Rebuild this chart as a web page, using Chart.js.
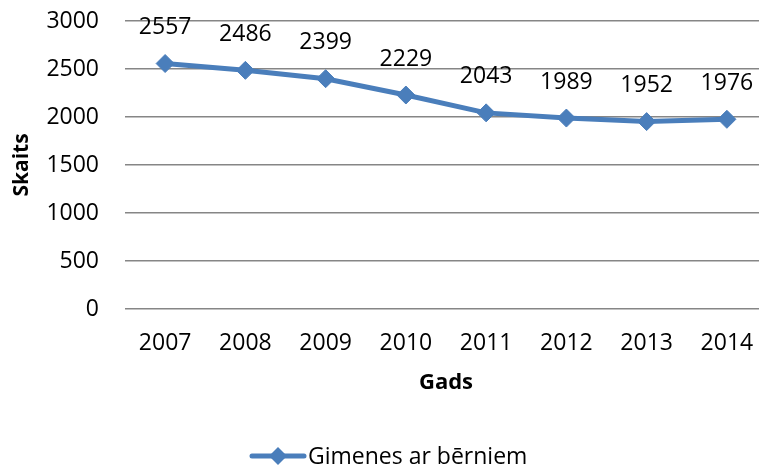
<!DOCTYPE html>
<html>
<head>
<meta charset="utf-8">
<script src="https://cdn.jsdelivr.net/npm/chart.js@4"></script>
<style>
  html, body { margin: 0; padding: 0; background: #fff; overflow: hidden; }
  #wrap { width: 759px; height: 465px; overflow: hidden; }
  #inner { width: 777px; height: 465px; }
</style>
</head>
<body>
<div id="wrap"><div id="inner"><canvas id="c" width="777" height="465" style="width:777px;height:465px"></canvas></div></div>
<script>
/* Dati */
const years = ['2007', '2008', '2009', '2010', '2011', '2012', '2013', '2014'];
const gimenes = [2557, 2486, 2399, 2229, 2043, 1989, 1952, 1976];
const seriesLabel = 'Gimenes ar bērniem';

const FONT = '"Open Sans", sans-serif';
const BLUE = '#4a7ebb';

/* vērtības virs punktiem + leģenda */
const labelsPlugin = {
  id: 'labels',
  afterDatasetsDraw(chart) {
    const ctx = chart.ctx;
    const meta = chart.getDatasetMeta(0);
    ctx.save();
    ctx.font = '23px ' + FONT;
    ctx.fillStyle = '#000';
    ctx.textAlign = 'center';
    ctx.textBaseline = 'middle';
    meta.data.forEach((pt, i) => {
      ctx.fillText(String(gimenes[i]), pt.x, pt.y - 36);
    });

    // leģenda
    const ly = 456;
    ctx.strokeStyle = BLUE;
    ctx.lineWidth = 5;
    ctx.lineCap = 'round';
    ctx.beginPath(); ctx.moveTo(252, ly); ctx.lineTo(304, ly); ctx.stroke();
    ctx.fillStyle = BLUE;
    ctx.beginPath();
    ctx.moveTo(278, ly - 9); ctx.lineTo(287, ly); ctx.lineTo(278, ly + 9); ctx.lineTo(269, ly);
    ctx.closePath(); ctx.fill();
    ctx.fillStyle = '#000';
    ctx.textAlign = 'left';
    ctx.fillText(seriesLabel, 308, ly + 1);
    ctx.restore();
  }
};

new Chart(document.getElementById('c'), {
  type: 'line',
  data: {
    labels: years,
    datasets: [{
      label: seriesLabel,
      data: gimenes,
      borderColor: BLUE,
      backgroundColor: BLUE,
      borderWidth: 5,
      tension: 0,
      pointStyle: 'rectRot',
      pointRadius: 9,
      pointHoverRadius: 9,
      pointBackgroundColor: BLUE,
      pointBorderColor: BLUE,
      pointBorderWidth: 1,
    }]
  },
  options: {
    responsive: false,
    animation: false,
    layout: { padding: { left: 0, right: 3, top: 21, bottom: 65 } },
    plugins: { legend: { display: false }, tooltip: { enabled: false } },
    scales: {
      x: {
        offset: true,
        grid: { display: false, drawTicks: false },
        border: { display: false },
        ticks: { color: '#000', font: { family: FONT, size: 23 }, padding: 21, maxRotation: 0 },
        title: { display: true, text: 'Gads', color: '#000', font: { family: FONT, size: 22, weight: 'bold' }, padding: { top: 0, bottom: 4 } },
        afterFit(s) { s.height = 91; s.paddingLeft = 0; s.paddingRight = 0; },
      },
      y: {
        min: 0, max: 3000,
        grid: { color: '#868686', lineWidth: 1.5, drawTicks: false },
        border: { display: false },
        ticks: { stepSize: 500, color: '#000', font: { family: FONT, size: 23 }, padding: 26, callback: v => String(v) },
        title: { display: true, text: 'Skaits', color: '#000', font: { family: FONT, size: 21, weight: 'bold' }, padding: { top: 9, bottom: 0 } },
        afterFit(s) { s.width = 125; s.paddingTop = 0; s.paddingBottom = 0; },
      }
    }
  },
  plugins: [labelsPlugin]
});
</script>
</body>
</html>
